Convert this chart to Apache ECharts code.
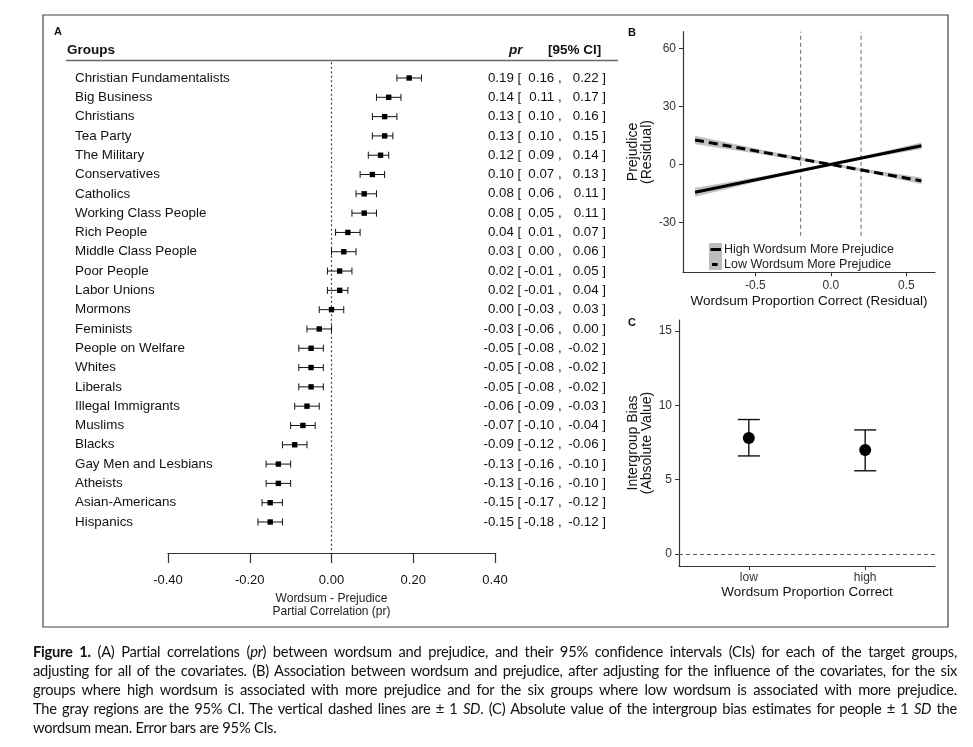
<!DOCTYPE html>
<html>
<head>
<meta charset="utf-8">
<script src="https://cdn.jsdelivr.net/npm/echarts@6/dist/echarts.min.js"></script>
<style>
  html,body{margin:0;padding:0;background:#fff;}
  #c{position:absolute;left:0;top:0;width:973px;height:747px;}
  .cap{position:absolute;left:33px;width:924px;font-family:Lato,"Open Sans",sans-serif;font-size:14.7px;letter-spacing:-0.25px;line-height:19px;color:#111;white-space:nowrap;text-align:justify;text-align-last:justify;}
  .cap.last{text-align:left;text-align-last:left;}
</style>
</head>
<body>
<div id="c"></div>
<div class="cap" style="top:642px"><b>Figure 1.</b> (A) Partial correlations (<i>pr</i>) between wordsum and prejudice, and their 95% confidence intervals (CIs) for each of the target groups,</div>
<div class="cap" style="top:661px">adjusting for all of the covariates. (B) Association between wordsum and prejudice, after adjusting for the influence of the covariates, for the six</div>
<div class="cap" style="top:680px">groups where high wordsum is associated with more prejudice and for the six groups where low wordsum is associated with more prejudice.</div>
<div class="cap" style="top:699px">The gray regions are the 95% CI. The vertical dashed lines are &plusmn; 1 <i>SD</i>. (C) Absolute value of the intergroup bias estimates for people &plusmn; 1 <i>SD</i> the</div>
<div class="cap last" style="top:718px">wordsum mean. Error bars are 95% CIs.</div>
<script>
// ---------- Panel A data ----------
const groups = ["Christian Fundamentalists","Big Business","Christians","Tea Party","The Military","Conservatives","Catholics","Working Class People","Rich People","Middle Class People","Poor People","Labor Unions","Mormons","Feminists","People on Welfare","Whites","Liberals","Illegal Immigrants","Muslims","Blacks","Gay Men and Lesbians","Atheists","Asian-Americans","Hispanics"];
const pr = [0.19,0.14,0.13,0.13,0.12,0.10,0.08,0.08,0.04,0.03,0.02,0.02,0.00,-0.03,-0.05,-0.05,-0.05,-0.06,-0.07,-0.09,-0.13,-0.13,-0.15,-0.15];
const prLo = [0.16,0.11,0.10,0.10,0.09,0.07,0.06,0.05,0.01,0.00,-0.01,-0.01,-0.03,-0.06,-0.08,-0.08,-0.08,-0.09,-0.10,-0.12,-0.16,-0.16,-0.17,-0.18];
const prHi = [0.22,0.17,0.16,0.15,0.14,0.13,0.11,0.11,0.07,0.06,0.05,0.04,0.03,0.00,-0.02,-0.02,-0.02,-0.03,-0.04,-0.06,-0.10,-0.10,-0.12,-0.12];

// ---------- Panel B data ----------
const highX = [-0.9, 0.6];
const highY = [-14.5, 9.6];
const lowX = [-0.9, 0.6];
const lowY = [12.6, -8.6];
const bandX = [-0.9, -0.45, 0, 0.3, 0.6];
const highLo = [-16.8, -8.3, -0.7, 3.9, 7.9];
const highHi = [-12.2, -6.2, 0.7, 5.7, 11.3];
const lowLo = [10.4, 5.1, -0.7, -5.2, -10.3];
const lowHi = [14.8, 7.4, 0.7, -3.4, -6.9];
const sdX = [-0.2, 0.2];
const sdYRange = [-37, 68.6];
const bXTicks = [-0.5, 0, 0.5];
const bYTicks = [-30, 0, 30, 60];
const bNames = ["High Wordsum More Prejudice", "Low Wordsum More Prejudice"];

// ---------- Panel C data ----------
const cLevels = ["low", "high"];
const cMean = [7.8, 7.0];
const cLo = [6.6, 5.6];
const cHi = [9.05, 8.35];
const cYTicks = [0, 5, 10, 15];

const FONT = "Liberation Sans, Arial, sans-serif";
const chart = echarts.init(document.getElementById('c'), null, {renderer:'canvas'});

const aTop = 68.35, aRowH = 19.304, aH = aRowH * groups.length;
const aAxisY = 553;
const aOffset = aAxisY - (aTop + aH);

// legend key glyphs (thin bar inside a 12x12 box; corner specks fix the box size)
const keySolid = 'path://M0,0L0.01,0L0.01,0.01Z M1.5,4.6H12V7.6H1.5Z M11.99,12L12,12L12,11.99Z';
const keyDash = 'path://M0,0L0.01,0L0.01,0.01Z M3,4.6H8.6V7.6H3Z M11.99,12L12,12L12,11.99Z';

const ciRich = {
  p: {width: 34, align: 'right', fontSize: 13.3, color: '#111'},
  lo: {width: 33, align: 'right', fontSize: 13.3, color: '#111'},
  hi: {width: 37, align: 'right', fontSize: 13.3, color: '#111'},
  t: {fontSize: 13.3, color: '#111'}
};
function ciLabel(v, i){
  return '{p|' + pr[i].toFixed(2) + '}{t| [}{lo|' + prLo[i].toFixed(2) + '}{t| ,}{hi|' + prHi[i].toFixed(2) + '}{t| ]}';
}

const option = {
  animation: false,
  backgroundColor: '#fff',
  textStyle: {fontFamily: FONT},
  grid: [
    {left: 168, right: 973 - 495, top: aTop, height: aH},
    {left: 683, right: 38, top: 31.7, height: 240.6},
    {left: 679, right: 38, top: 320, height: 246}
  ],
  legend: {
    data: [{name: bNames[0], icon: keySolid}, {name: bNames[1], icon: keyDash}],
    orient: 'vertical',
    left: 709, top: 243,
    itemWidth: 12, itemHeight: 12, itemGap: 2,
    padding: 0,
    selectedMode: false,
    itemStyle: {color: '#000', borderWidth: 0},
    textStyle: {fontSize: 12.5, color: '#222', fontFamily: FONT, padding: [0,0,0,-2]}
  },
  xAxis: [
    {gridIndex: 0, type: 'value', min: -0.4, max: 0.4, interval: 0.2, offset: aOffset,
     axisLine: {show: true, lineStyle: {color: '#333', width: 1.2}},
     axisTick: {show: true, length: 10, lineStyle: {color: '#333', width: 1.2}},
     axisLabel: {fontSize: 13, color: '#111', margin: 21, formatter: v => v.toFixed(2)},
     splitLine: {show: false},
     name: 'Wordsum - Prejudice\nPartial Correlation (pr)', nameLocation: 'middle', nameGap: 36,
     nameTextStyle: {fontSize: 12, lineHeight: 13.5, color: '#222'}},
    {gridIndex: 1, type: 'value', min: -0.98, max: 0.69,
     axisLine: {show: true, onZero: false, lineStyle: {color: '#333', width: 1.2}},
     axisTick: {show: true, length: 4, customValues: bXTicks, lineStyle: {color: '#333'}},
     axisLabel: {fontSize: 12, color: '#333', margin: 7, customValues: bXTicks, formatter: v => v.toFixed(1)},
     splitLine: {show: false},
     name: 'Wordsum Proportion Correct (Residual)', nameLocation: 'middle', nameGap: 22,
     nameTextStyle: {fontSize: 13.5, color: '#111'}},
    {gridIndex: 2, type: 'value', min: 0.4, max: 2.6,
     axisLine: {show: true, onZero: false, lineStyle: {color: '#333', width: 1.2}},
     axisTick: {show: true, length: 4, customValues: [1, 2], lineStyle: {color: '#333'}},
     axisLabel: {fontSize: 12, color: '#333', margin: 6, customValues: [1, 2], formatter: v => cLevels[Math.round(v) - 1]},
     splitLine: {show: false},
     name: 'Wordsum Proportion Correct', nameLocation: 'middle', nameGap: 18,
     nameTextStyle: {fontSize: 13.5, color: '#111'}}
  ],
  yAxis: [
    {gridIndex: 0, type: 'category', data: groups, inverse: true,
     axisLine: {show: false}, axisTick: {show: false},
     axisLabel: {align: 'left', margin: 93, fontSize: 13.4, color: '#111', interval: 0}},
    {gridIndex: 0, type: 'category', data: groups, inverse: true, position: 'right',
     axisLine: {show: false}, axisTick: {show: false},
     axisLabel: {align: 'right', margin: 111, interval: 0, formatter: ciLabel, rich: ciRich}},
    {gridIndex: 1, type: 'value', min: -55.9, max: 68.6,
     axisLine: {show: true, onZero: false, lineStyle: {color: '#333', width: 1.2}},
     axisTick: {show: true, length: 4, customValues: bYTicks, lineStyle: {color: '#333'}},
     axisLabel: {fontSize: 12, color: '#333', margin: 7, customValues: bYTicks},
     splitLine: {show: false},
     name: 'Prejudice\n(Residual)', nameLocation: 'middle', nameRotate: 90, nameGap: 20,
     nameTextStyle: {fontSize: 14, lineHeight: 14.5, color: '#111'}},
    {gridIndex: 2, type: 'value', min: -0.81, max: 15.75,
     axisLine: {show: true, onZero: false, lineStyle: {color: '#333', width: 1.2}},
     axisTick: {show: true, length: 4, customValues: cYTicks, lineStyle: {color: '#333'}},
     axisLabel: {fontSize: 12, color: '#333', margin: 7, customValues: cYTicks},
     splitLine: {show: false},
     name: 'Intergroup Bias\n(Absolute Value)', nameLocation: 'middle', nameRotate: 90, nameGap: 20,
     nameTextStyle: {fontSize: 14, lineHeight: 14.5, color: '#111'}}
  ],
  graphic: [
    {type: 'rect', shape: {x: 43, y: 15, width: 905, height: 612}, style: {fill: 'none', stroke: '#444', lineWidth: 1.2}, z: 0},
    {type: 'text', left: 54, top: 26, style: {text: 'A', font: 'bold 11px ' + FONT, fill: '#111'}},
    {type: 'text', left: 67, top: 43, style: {text: 'Groups', font: 'bold 13.5px ' + FONT, fill: '#111'}},
    {type: 'text', left: 509, top: 43, style: {text: 'pr', font: 'italic bold 13.5px ' + FONT, fill: '#111'}},
    {type: 'text', left: 548, top: 43, style: {text: '[95% CI]', font: 'bold 13.5px ' + FONT, fill: '#111'}},
    {type: 'line', shape: {x1: 66, y1: 60.5, x2: 618, y2: 60.5}, style: {stroke: '#666', lineWidth: 1.6}},
    {type: 'text', left: 628, top: 27, style: {text: 'B', font: 'bold 11px ' + FONT, fill: '#111'}},
    {type: 'text', left: 628, top: 317, style: {text: 'C', font: 'bold 11px ' + FONT, fill: '#111'}},
    {type: 'rect', shape: {x: 709, y: 243, width: 13, height: 27}, style: {fill: '#bdbdbd'}, z: 1}
  ],
  series: [
    // Panel A: zero reference (dotted)
    {type: 'custom', xAxisIndex: 0, yAxisIndex: 0, silent: true, data: [[0, 0]],
     renderItem: function(params, api){
       const p = api.coord([0, 0]);
       const cs = params.coordSys;
       return {type: 'line', shape: {x1: p[0], y1: cs.y - 6, x2: p[0], y2: cs.y + cs.height + aOffset},
               style: {stroke: '#444', lineWidth: 1.2, lineDash: [2, 2.5]}};
     }},
    // Panel A: forest plot
    {type: 'custom', xAxisIndex: 0, yAxisIndex: 0, silent: true,
     data: groups.map((g, i) => [pr[i], i, prLo[i], prHi[i]]),
     encode: {x: 0, y: 1},
     renderItem: function(params, api){
       const c = api.coord([api.value(0), api.value(1)]);
       const l = api.coord([api.value(2), api.value(1)]);
       const h = api.coord([api.value(3), api.value(1)]);
       const st = {stroke: '#111', lineWidth: 1};
       return {type: 'group', children: [
         {type: 'line', shape: {x1: l[0], y1: c[1], x2: h[0], y2: c[1]}, style: st},
         {type: 'line', shape: {x1: l[0], y1: c[1] - 3.5, x2: l[0], y2: c[1] + 3.5}, style: st},
         {type: 'line', shape: {x1: h[0], y1: c[1] - 3.5, x2: h[0], y2: c[1] + 3.5}, style: st},
         {type: 'rect', shape: {x: c[0] - 2.7, y: c[1] - 2.7, width: 5.4, height: 5.4}, style: {fill: '#000'}}
       ]};
     }},
    // Panel B: CI bands
    {type: 'custom', xAxisIndex: 1, yAxisIndex: 2, silent: true, data: [0], z: 1,
     renderItem: function(params, api){
       const mk = (lo, hi) => {
         const pts = [];
         bandX.forEach((x, i) => pts.push(api.coord([x, hi[i]])));
         for (let i = bandX.length - 1; i >= 0; i--) pts.push(api.coord([bandX[i], lo[i]]));
         return {type: 'polygon', shape: {points: pts}, style: {fill: '#c2c2c2'}};
       };
       return {type: 'group', children: [mk(highLo, highHi), mk(lowLo, lowHi)]};
     }},
    // Panel B: SD lines
    {type: 'custom', xAxisIndex: 1, yAxisIndex: 2, silent: true, data: sdX.map(x => [x]), z: 1,
     renderItem: function(params, api){
       const x = api.value(0);
       const a = api.coord([x, sdYRange[0]]);
       const b = api.coord([x, sdYRange[1]]);
       return {type: 'line', shape: {x1: a[0], y1: a[1], x2: b[0], y2: b[1]},
               style: {stroke: '#555', lineWidth: 0.9, lineDash: [4, 3]}};
     }},
    {name: bNames[0], type: 'line', xAxisIndex: 1, yAxisIndex: 2, symbol: 'none', silent: true, z: 3,
     data: highX.map((x, i) => [x, highY[i]]),
     lineStyle: {color: '#000', width: 3}, itemStyle: {color: '#000'}},
    {name: bNames[1], type: 'line', xAxisIndex: 1, yAxisIndex: 2, symbol: 'none', silent: true, z: 3,
     data: lowX.map((x, i) => [x, lowY[i]]),
     lineStyle: {color: '#000', width: 3, type: [9, 5]}, itemStyle: {color: '#000'}},
    // Panel C: error bars
    {type: 'custom', xAxisIndex: 2, yAxisIndex: 3, silent: true,
     data: cLevels.map((l, i) => [i + 1, cLo[i], cHi[i]]),
     encode: {x: 0, y: [1, 2]},
     renderItem: function(params, api){
       const a = api.coord([api.value(0), api.value(1)]);
       const b = api.coord([api.value(0), api.value(2)]);
       const st = {stroke: '#111', lineWidth: 1.4};
       return {type: 'group', children: [
         {type: 'line', shape: {x1: a[0], y1: a[1], x2: b[0], y2: b[1]}, style: st},
         {type: 'line', shape: {x1: a[0] - 11, y1: a[1], x2: a[0] + 11, y2: a[1]}, style: st},
         {type: 'line', shape: {x1: b[0] - 11, y1: b[1], x2: b[0] + 11, y2: b[1]}, style: st}
       ]};
     }},
    {type: 'scatter', xAxisIndex: 2, yAxisIndex: 3, silent: true, symbolSize: 12, z: 3,
     data: cLevels.map((l, i) => [i + 1, cMean[i]]),
     itemStyle: {color: '#000', opacity: 1},
     markLine: {silent: true, symbol: 'none', label: {show: false},
                lineStyle: {color: '#555', type: [4, 3], width: 1},
                data: [{yAxis: 0}]}}
  ]
};
chart.setOption(option);
</script>
</body>
</html>
